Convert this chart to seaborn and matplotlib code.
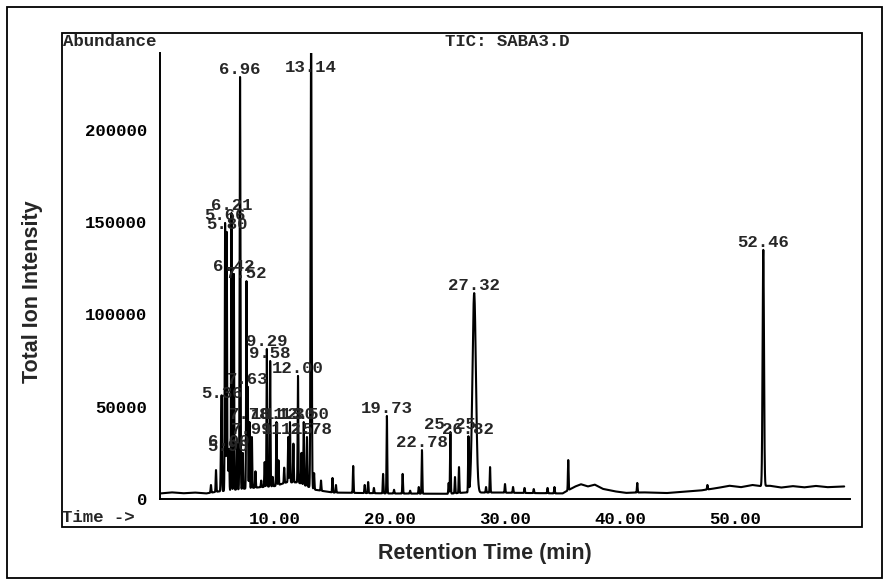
import numpy as np
import pandas as pd
import matplotlib
matplotlib.use("Agg")
import matplotlib.pyplot as plt
from matplotlib.patches import Rectangle
from matplotlib.ticker import MultipleLocator, FixedLocator
import seaborn as sns

# ---- peak table: retention time (min) and apex abundance ----
peak_rt = [4.43, 4.87, 5.30, 5.36, 5.66, 5.80, 5.90, 6.00, 6.21, 6.42, 6.70,
           6.96, 7.20, 7.52, 7.63, 7.78, 7.99, 8.30, 8.80, 9.10, 9.29, 9.58,
           9.80, 10.13, 10.30, 10.80, 11.15, 11.30, 11.60, 12.00, 12.30, 12.50,
           12.78, 13.14, 13.40, 14.00, 15.00, 15.30, 16.80, 17.80, 18.10, 18.60,
           19.40, 19.73, 20.35, 21.10, 21.75, 22.50, 22.78, 25.10, 25.25, 25.65,
           26.00, 26.82, 27.32, 28.35, 28.70, 30.00, 30.70, 31.70, 32.50, 33.70,
           34.30, 35.50, 41.50, 47.60, 52.46]
peak_height = [7600, 15700, 25000, 53000, 149600, 144700, 24400, 27100, 155000,
               122000, 30000, 228700, 25000, 118000, 60700, 41700, 33600, 15000,
               10000, 20000, 81300, 74800, 12000, 41700, 21000, 17000, 33600,
               41700, 30000, 66700, 25000, 41700, 33600, 260000, 14000, 10000,
               11400, 7600, 17900, 7600, 9200, 6000, 13600, 45000, 5000, 13600,
               4500, 6500, 26500, 8700, 36300, 11900, 17300, 33600, 111600, 6500,
               17300, 8100, 6500, 6000, 5400, 6000, 6500, 21100, 8700, 7600,
               135000]
# peak widths (sigma, min); most peaks are sharp
peak_sigma = {27.32: 0.15, 52.46: 0.06, 13.14: 0.045, 6.96: 0.035}
default_sigma = 0.03

# integrated peaks that carry a retention-time label
labeled_rt = [5.36, 5.66, 5.80, 5.90, 6.00, 6.21, 6.42, 6.96, 7.52, 7.63, 7.78,
              7.99, 9.29, 9.58, 10.13, 11.15, 11.30, 12.00, 12.50, 12.78, 13.14,
              19.73, 22.78, 25.25, 26.82, 27.32, 52.46]

# baseline level of the total ion current (read every minute or two)
baseline_rt = [0.0, 1.0, 2.0, 3.0, 4.0, 5.0, 8.0, 10.0, 11.0, 12.0, 13.5,
               15.0, 20.0, 25.0, 26.5, 29.0, 35.0, 36.0, 36.6, 37.2, 37.8,
               38.5, 39.5, 40.5, 42.0, 44.0, 45.5, 47.0, 48.5, 49.5, 50.5,
               51.5, 52.2, 53.0, 54.0, 55.0, 56.0, 57.0, 58.0, 59.5]
baseline_level = [3000, 3600, 3100, 3500, 3000, 4000, 6000, 7000, 9000, 9000,
                  5000, 3500, 3000, 2800, 3500, 3500, 3000, 6500, 8000, 6800,
                  7800, 5500, 4200, 3300, 3600, 3200, 3900, 4600, 6000, 7200,
                  6400, 7600, 7000, 7200, 6200, 7000, 6300, 7100, 6400, 6800]

y_ticks = [0, 50000, 100000, 150000, 200000]
x_ticks = [10, 20, 30, 40, 50]

# ---- build the trace ----
t = np.arange(0.0, 59.5, 0.005)
base = np.interp(t, baseline_rt, baseline_level)
signal = base.copy()
for rt, h in zip(peak_rt, peak_height):
    s = peak_sigma.get(rt, default_sigma)
    amp = h - np.interp(rt, baseline_rt, baseline_level)
    signal += amp * np.exp(-0.5 * ((t - rt) / s) ** 2)
trace = pd.DataFrame({"time": t, "abundance": signal})

# ---- figure ----
sns.set_theme(style="white")
plt.rcParams["font.family"] = ["Liberation Mono", "DejaVu Sans"]
W, H = 885, 580
fig = plt.figure(figsize=(W / 100, H / 100), dpi=100)
fig.patch.set_facecolor("white")

def fx(px):
    return px / W

def fy(py):
    return 1 - py / H

# outer border and inner plot frame
fig.add_artist(Rectangle((fx(7), fy(578)), fx(882) - fx(7), fy(7) - fy(578),
                         transform=fig.transFigure, fill=False, lw=1.3,
                         edgecolor="black"))
fig.add_artist(Rectangle((fx(62), fy(527)), fx(862) - fx(62), fy(33) - fy(527),
                         transform=fig.transFigure, fill=False, lw=1.3,
                         edgecolor="black"))

ax = fig.add_axes([fx(160), fy(499), fx(850) - fx(160), fy(53) - fy(499)])
ax.set_facecolor("none")
sns.lineplot(data=trace, x="time", y="abundance", ax=ax, color="black",
             lw=1.5, estimator=None, sort=False, legend=False)
ax.set_xlim(0, 60)
ax.set_ylim(0, 241700)
ax.set_xlabel("")
ax.set_ylabel("")

for side in ["top", "right"]:
    ax.spines[side].set_visible(False)
for side in ["left", "bottom"]:
    ax.spines[side].set_linewidth(1.4)
    ax.spines[side].set_color("black")

mono = dict(family=["Liberation Mono", "DejaVu Sans"], weight="bold", size=12.5)

ax.xaxis.set_major_locator(FixedLocator(x_ticks))
ax.xaxis.set_minor_locator(MultipleLocator(2))
ax.yaxis.set_major_locator(FixedLocator(y_ticks))
ax.yaxis.set_minor_locator(MultipleLocator(10000))
ax.set_xticklabels([f"{v:.2f}" for v in x_ticks], **mono)
ax.set_yticklabels([str(v) for v in y_ticks], **mono)
ax.tick_params(axis="x", which="major", direction="out", length=7, width=1.4,
               pad=2, colors="black")
ax.tick_params(axis="x", which="minor", direction="out", length=3.5, width=1.2,
               colors="black")
ax.tick_params(axis="y", which="major", direction="out", length=6, width=1.4,
               pad=3, colors="black")
ax.tick_params(axis="y", which="minor", direction="inout", length=3, width=1.0,
               colors="black")

# retention-time labels above peaks
for rt in labeled_rt:
    h = peak_height[peak_rt.index(rt)]
    ax.annotate(f"{rt:.2f}", xy=(rt, min(h, 230000)), xytext=(0, 2.2),
                textcoords="offset points", ha="center", va="baseline",
                clip_on=False, **mono)

# header and corner texts
fig.text(fx(63), fy(42), "Abundance", ha="left", va="center", **mono)
fig.text(fx(507), fy(42), "TIC: SABA3.D", ha="center", va="center", **mono)
fig.text(fx(62), fy(517), "Time ->", ha="left", va="center", **mono)

sans = dict(family=["Liberation Sans", "DejaVu Sans"], weight="bold", size=15.5)
fig.text(fx(33), fy(292), "Total Ion Intensity", rotation=90, ha="center",
         va="center", **sans)
fig.text(fx(485), fy(553), "Retention Time (min)", ha="center", va="center",
         **sans)

fig.savefig("out.png", dpi=100)
